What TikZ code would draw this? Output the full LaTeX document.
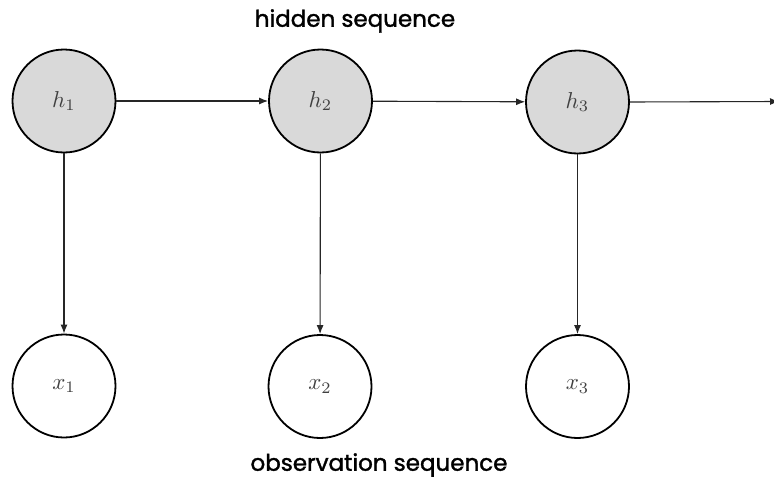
\documentclass[tikz,border=0pt]{standalone}
\usepackage{fontspec}
\newfontfamily\lblfont{Poppins}[RawFeature={embolden=1.5}]
\usetikzlibrary{arrows.meta}
\newcommand{\mylbl}[1]{\scalebox{2.3}{$#1$}}
\begin{document}
\begin{tikzpicture}[x=1pt,y=-1pt,
  hid/.style={circle,draw=black,line width=1.8pt,fill=black!15,minimum size=103pt,inner sep=0pt,text=black!75},
  obs/.style={circle,draw=black,line width=1.8pt,fill=white,minimum size=103pt,inner sep=0pt,text=black!75},
  conn/.style={line width=1.1pt,draw=black!85,-{Latex[length=9pt,width=7pt]}},
  lbl/.style={font=\lblfont\fontsize{23}{23}\selectfont}]
\useasboundingbox (0,0) rectangle (774,479);
\node[hid] (h1) at (64,101) {\mylbl{h_1}};
\node[hid] (h2) at (320.5,101) {\mylbl{h_2}};
\node[hid] (h3) at (577.5,102) {\mylbl{h_3}};
\node[obs] (x1) at (64,386) {\mylbl{x_1}};
\node[obs] (x2) at (320,386.5) {\mylbl{x_2}};
\node[obs] (x3) at (577.5,386.5) {\mylbl{x_3}};
\coordinate (hend) at (779,101.5);
\draw[conn] (h1) -- (h2);
\draw[conn] (h2) -- (h3);
\draw[conn] (h3.east) -- (hend);
\draw[conn] (h1) -- (x1);
\draw[conn] (h2) -- (x2);
\draw[conn] (h3) -- (x3);
\node[lbl] (t1) at (355,21) {hidden sequence};
\node[lbl] (t2) at (379,465) {observation sequence};
\end{tikzpicture}
\end{document}
